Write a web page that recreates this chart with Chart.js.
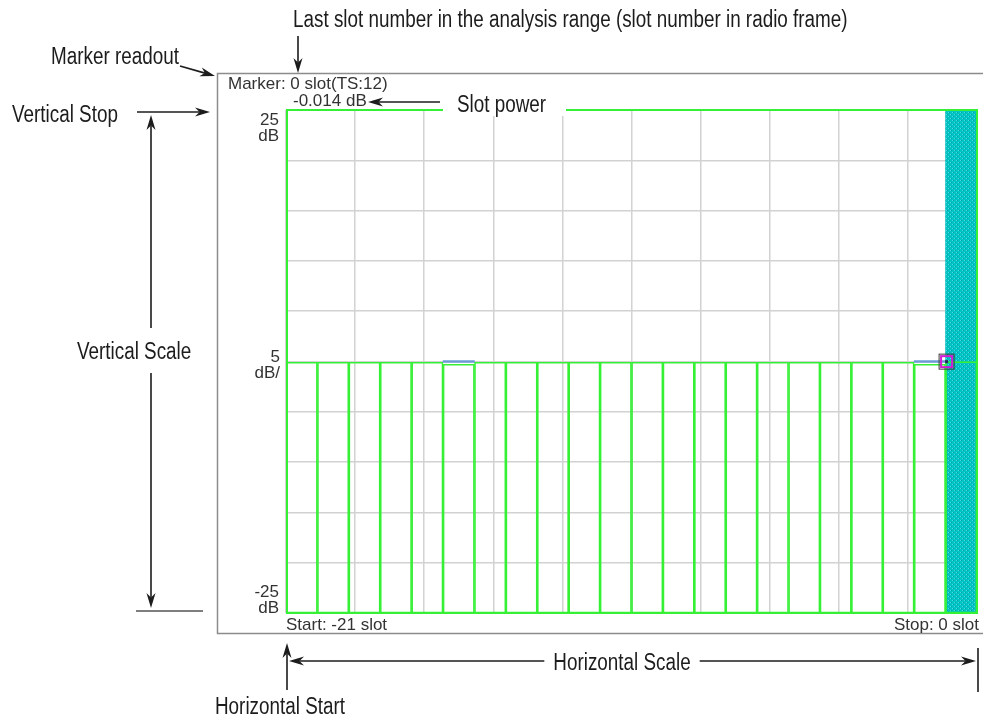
<!DOCTYPE html>
<html>
<head>
<meta charset="utf-8">
<script src="https://cdn.jsdelivr.net/npm/chart.js@4"></script>
<style>
  html, body { margin: 0; padding: 0; background: #fff; }
  #wrap { width: 983px; height: 723px; }
</style>
</head>
<body>
<div id="wrap"><canvas id="slotChart" width="983" height="723"></canvas></div>
<script>
// slots in the analysis range (last slot = 0)
const slotLabels = ['-21','-20','-19','-18','-17','-16','-15','-14','-13','-12','-11',
                    '-10','-9','-8','-7','-6','-5','-4','-3','-2','-1','0'];
// slot power (dB), green trace
const slotPower = [0.00, 0.00, 0.00, 0.00, 0.00, -0.27, 0.00, 0.00, 0.00, 0.00, 0.00,
                   0.00, 0.00, 0.00, 0.00, 0.00, 0.00, 0.00, 0.00, 0.00, -0.27, -0.014];
// blue trace, only visible where it sits above the green one
const slotMax = [null, null, null, null, null, 0.00, null, null, null, null, null,
                 null, null, null, null, null, null, null, null, null, 0.00, null];
const markerSlot = '0';
const markerTS = 12;
const markerValue = -0.014;
const yMin = -25, yMax = 25, yStep = 5;
const startSlot = -21, stopSlot = 0;

const GREEN = '#36f036';

// cyan dotted fill for the marked slot
function makePattern() {
  const c = document.createElement('canvas');
  c.width = 4; c.height = 4;
  const g = c.getContext('2d');
  g.fillStyle = '#00c3c6';
  g.fillRect(0, 0, 4, 4);
  g.fillStyle = '#4fdede';
  g.fillRect(0, 0, 1, 1);
  g.fillRect(2, 2, 1, 1);
  g.fillStyle = '#00a4a8';
  g.fillRect(1, 0, 1, 1);
  g.fillRect(3, 2, 1, 1);
  return g.createPattern(c, 'repeat');
}

const markIdx = slotLabels.indexOf(markerSlot);
const highlight = slotLabels.map((s, i) => i === markIdx ? [yMin, yMax] : null);

function arrow(ctx, x1, y1, x2, y2) {
  const a = Math.atan2(y2 - y1, x2 - x1);
  const len = 15, hw = 4.5;
  ctx.beginPath();
  ctx.moveTo(x1, y1);
  ctx.lineTo(x2 - Math.cos(a) * len * 0.7, y2 - Math.sin(a) * len * 0.7);
  ctx.stroke();
  ctx.beginPath();
  ctx.moveTo(x2, y2);
  ctx.lineTo(x2 - Math.cos(a) * len - Math.sin(a) * hw, y2 - Math.sin(a) * len + Math.cos(a) * hw);
  ctx.lineTo(x2 - Math.cos(a) * len * 0.7, y2 - Math.sin(a) * len * 0.7);
  ctx.lineTo(x2 - Math.cos(a) * len + Math.sin(a) * hw, y2 - Math.sin(a) * len - Math.cos(a) * hw);
  ctx.closePath();
  ctx.fill();
}

function line(ctx, x1, y1, x2, y2) {
  ctx.beginPath();
  ctx.moveTo(x1, y1);
  ctx.lineTo(x2, y2);
  ctx.stroke();
}

// condensed caption text
function caption(ctx, text, x, y, align) {
  ctx.save();
  ctx.font = '23px "Liberation Sans", Arial, sans-serif';
  const w = ctx.measureText(text).width * 0.82;
  let x0 = x;
  if (align === 'center') x0 = x - w / 2;
  ctx.translate(x0, y);
  ctx.scale(0.82, 1);
  ctx.textAlign = 'left';
  ctx.fillText(text, 0, 0);
  ctx.restore();
  return w;
}

const screenPlugin = {
  id: 'screen',
  afterDatasetsDraw(chart) {
    const {ctx, chartArea: a, scales} = chart;
    ctx.save();
    // green frame of the graticule
    ctx.strokeStyle = GREEN;
    ctx.lineWidth = 2;
    ctx.strokeRect(a.left + 1, a.top, a.right - a.left - 1, a.bottom - a.top);

    // marker
    const meta = chart.getDatasetMeta(1);
    const bar = meta.data[markIdx];
    const mx = bar.x - bar.width / 2 + 1;
    const my = scales.y.getPixelForValue(markerValue);
    ctx.lineWidth = 1;
    ctx.strokeStyle = '#3a3a3a';
    ctx.strokeRect(mx - 7.5, my - 7.5, 15, 15);
    ctx.strokeStyle = '#d21ad2';
    ctx.lineWidth = 2;
    ctx.strokeRect(mx - 5.5, my - 5.5, 11, 11);
    ctx.fillStyle = '#2a2a5a';
    ctx.fillRect(mx - 1.5, my - 1.5, 3, 3);
    ctx.restore();
  },
  afterDraw(chart) {
    const {ctx, chartArea: a, scales} = chart;
    ctx.save();
    // outer instrument screen box
    ctx.strokeStyle = '#8c8c8c';
    ctx.lineWidth = 1.5;
    ctx.beginPath();
    ctx.moveTo(983, 73.5);
    ctx.lineTo(217.5, 73.5);
    ctx.lineTo(217.5, 633.5);
    ctx.lineTo(983, 633.5);
    ctx.stroke();

    // readouts
    ctx.fillStyle = '#333';
    ctx.font = '17px "Liberation Sans", Arial, sans-serif';
    ctx.textAlign = 'left';
    ctx.fillText('Marker: ' + markerSlot + ' slot(TS:' + markerTS + ')', 228, 89);
    ctx.fillText(markerValue.toFixed(3) + ' dB', 293, 106);
    ctx.fillText('Start: ' + startSlot + ' slot', 286, 630);
    ctx.textAlign = 'right';
    ctx.fillText('Stop: ' + stopSlot + ' slot', 979, 630);

    const yT = scales.y.getPixelForValue(yMax);
    const yM = scales.y.getPixelForValue(0);
    const yB = scales.y.getPixelForValue(yMin);
    ctx.fillText(String(yMax), 279, yT + 15);
    ctx.fillText('dB', 279, yT + 31);
    ctx.fillText(String(yStep), 280, yM);
    ctx.fillText('dB/', 280, yM + 16.5);
    ctx.fillText(String(yMin), 279, yB - 16);
    ctx.fillText('dB', 279, yB);

    // "Slot power" label covers the top frame
    ctx.fillStyle = '#fff';
    ctx.fillRect(443, 96, 123, 20);

    // callouts
    ctx.fillStyle = '#1c1c1c';
    ctx.strokeStyle = '#1c1c1c';
    ctx.lineWidth = 1.6;
    caption(ctx, 'Last slot number in the analysis range (slot number in radio frame)', 293, 27);
    arrow(ctx, 298, 36, 298, 73);
    caption(ctx, 'Marker readout', 51, 64);
    arrow(ctx, 180, 66, 215, 76);
    caption(ctx, 'Vertical Stop', 12, 122);
    arrow(ctx, 137, 112, 210, 112);
    caption(ctx, 'Vertical Scale', 77, 359);
    arrow(ctx, 151, 328, 151, 115);
    arrow(ctx, 151, 373, 151, 608);
    ctx.strokeStyle = '#555';
    line(ctx, 136, 611, 203, 611);
    ctx.strokeStyle = '#1c1c1c';
    caption(ctx, 'Slot power', 457, 112);
    arrow(ctx, 440, 102, 368, 102);
    const w = caption(ctx, 'Horizontal Scale', 622, 670, 'center');
    arrow(ctx, 622 - w / 2 - 9, 661, 289, 661);
    arrow(ctx, 622 + w / 2 + 9, 661, 976, 661);
    line(ctx, 978, 648, 978, 692);
    caption(ctx, 'Horizontal Start', 215, 714);
    arrow(ctx, 287, 690, 287, 643);
    ctx.restore();
  }
};

const ctx = document.getElementById('slotChart').getContext('2d');
new Chart(ctx, {
  type: 'bar',
  data: {
    labels: slotLabels,
    datasets: [
      {
        // blue trace
        data: slotMax.map(v => v === null ? null : [v - 0.08, v + 0.08]),
        backgroundColor: '#6d9bd6',
        borderWidth: 0,
        grouped: false,
        order: 1
      },
      {
        // slot power bars
        data: slotPower.map(v => [yMin, v]),
        backgroundColor: 'rgba(0,0,0,0)',
        borderColor: GREEN,
        borderWidth: 1,
        borderSkipped: false,
        grouped: false,
        order: 2
      },
      {
        // marked slot
        data: highlight,
        backgroundColor: makePattern(),
        borderWidth: 0,
        grouped: false,
        order: 3
      }
    ]
  },
  options: {
    responsive: false,
    animation: false,
    events: [],
    barPercentage: 1,
    categoryPercentage: 1,
    layout: { padding: { left: 286, right: 6, top: 110, bottom: 110 } },
    plugins: { legend: { display: false }, tooltip: { enabled: false } },
    scales: {
      x: { display: false, offset: true },
      xg: {
        type: 'linear', position: 'bottom', min: 0, max: 10,
        offset: false,
        ticks: { display: false, stepSize: 1 },
        grid: { color: '#d2d2d2', lineWidth: 1.5, drawTicks: false, offset: false },
        border: { display: false }
      },
      y: {
        min: yMin, max: yMax,
        ticks: { display: false, stepSize: yStep },
        grid: { color: '#d2d2d2', lineWidth: 1.5, drawTicks: false },
        border: { display: false }
      }
    }
  },
  plugins: [screenPlugin]
});
</script>
</body>
</html>
